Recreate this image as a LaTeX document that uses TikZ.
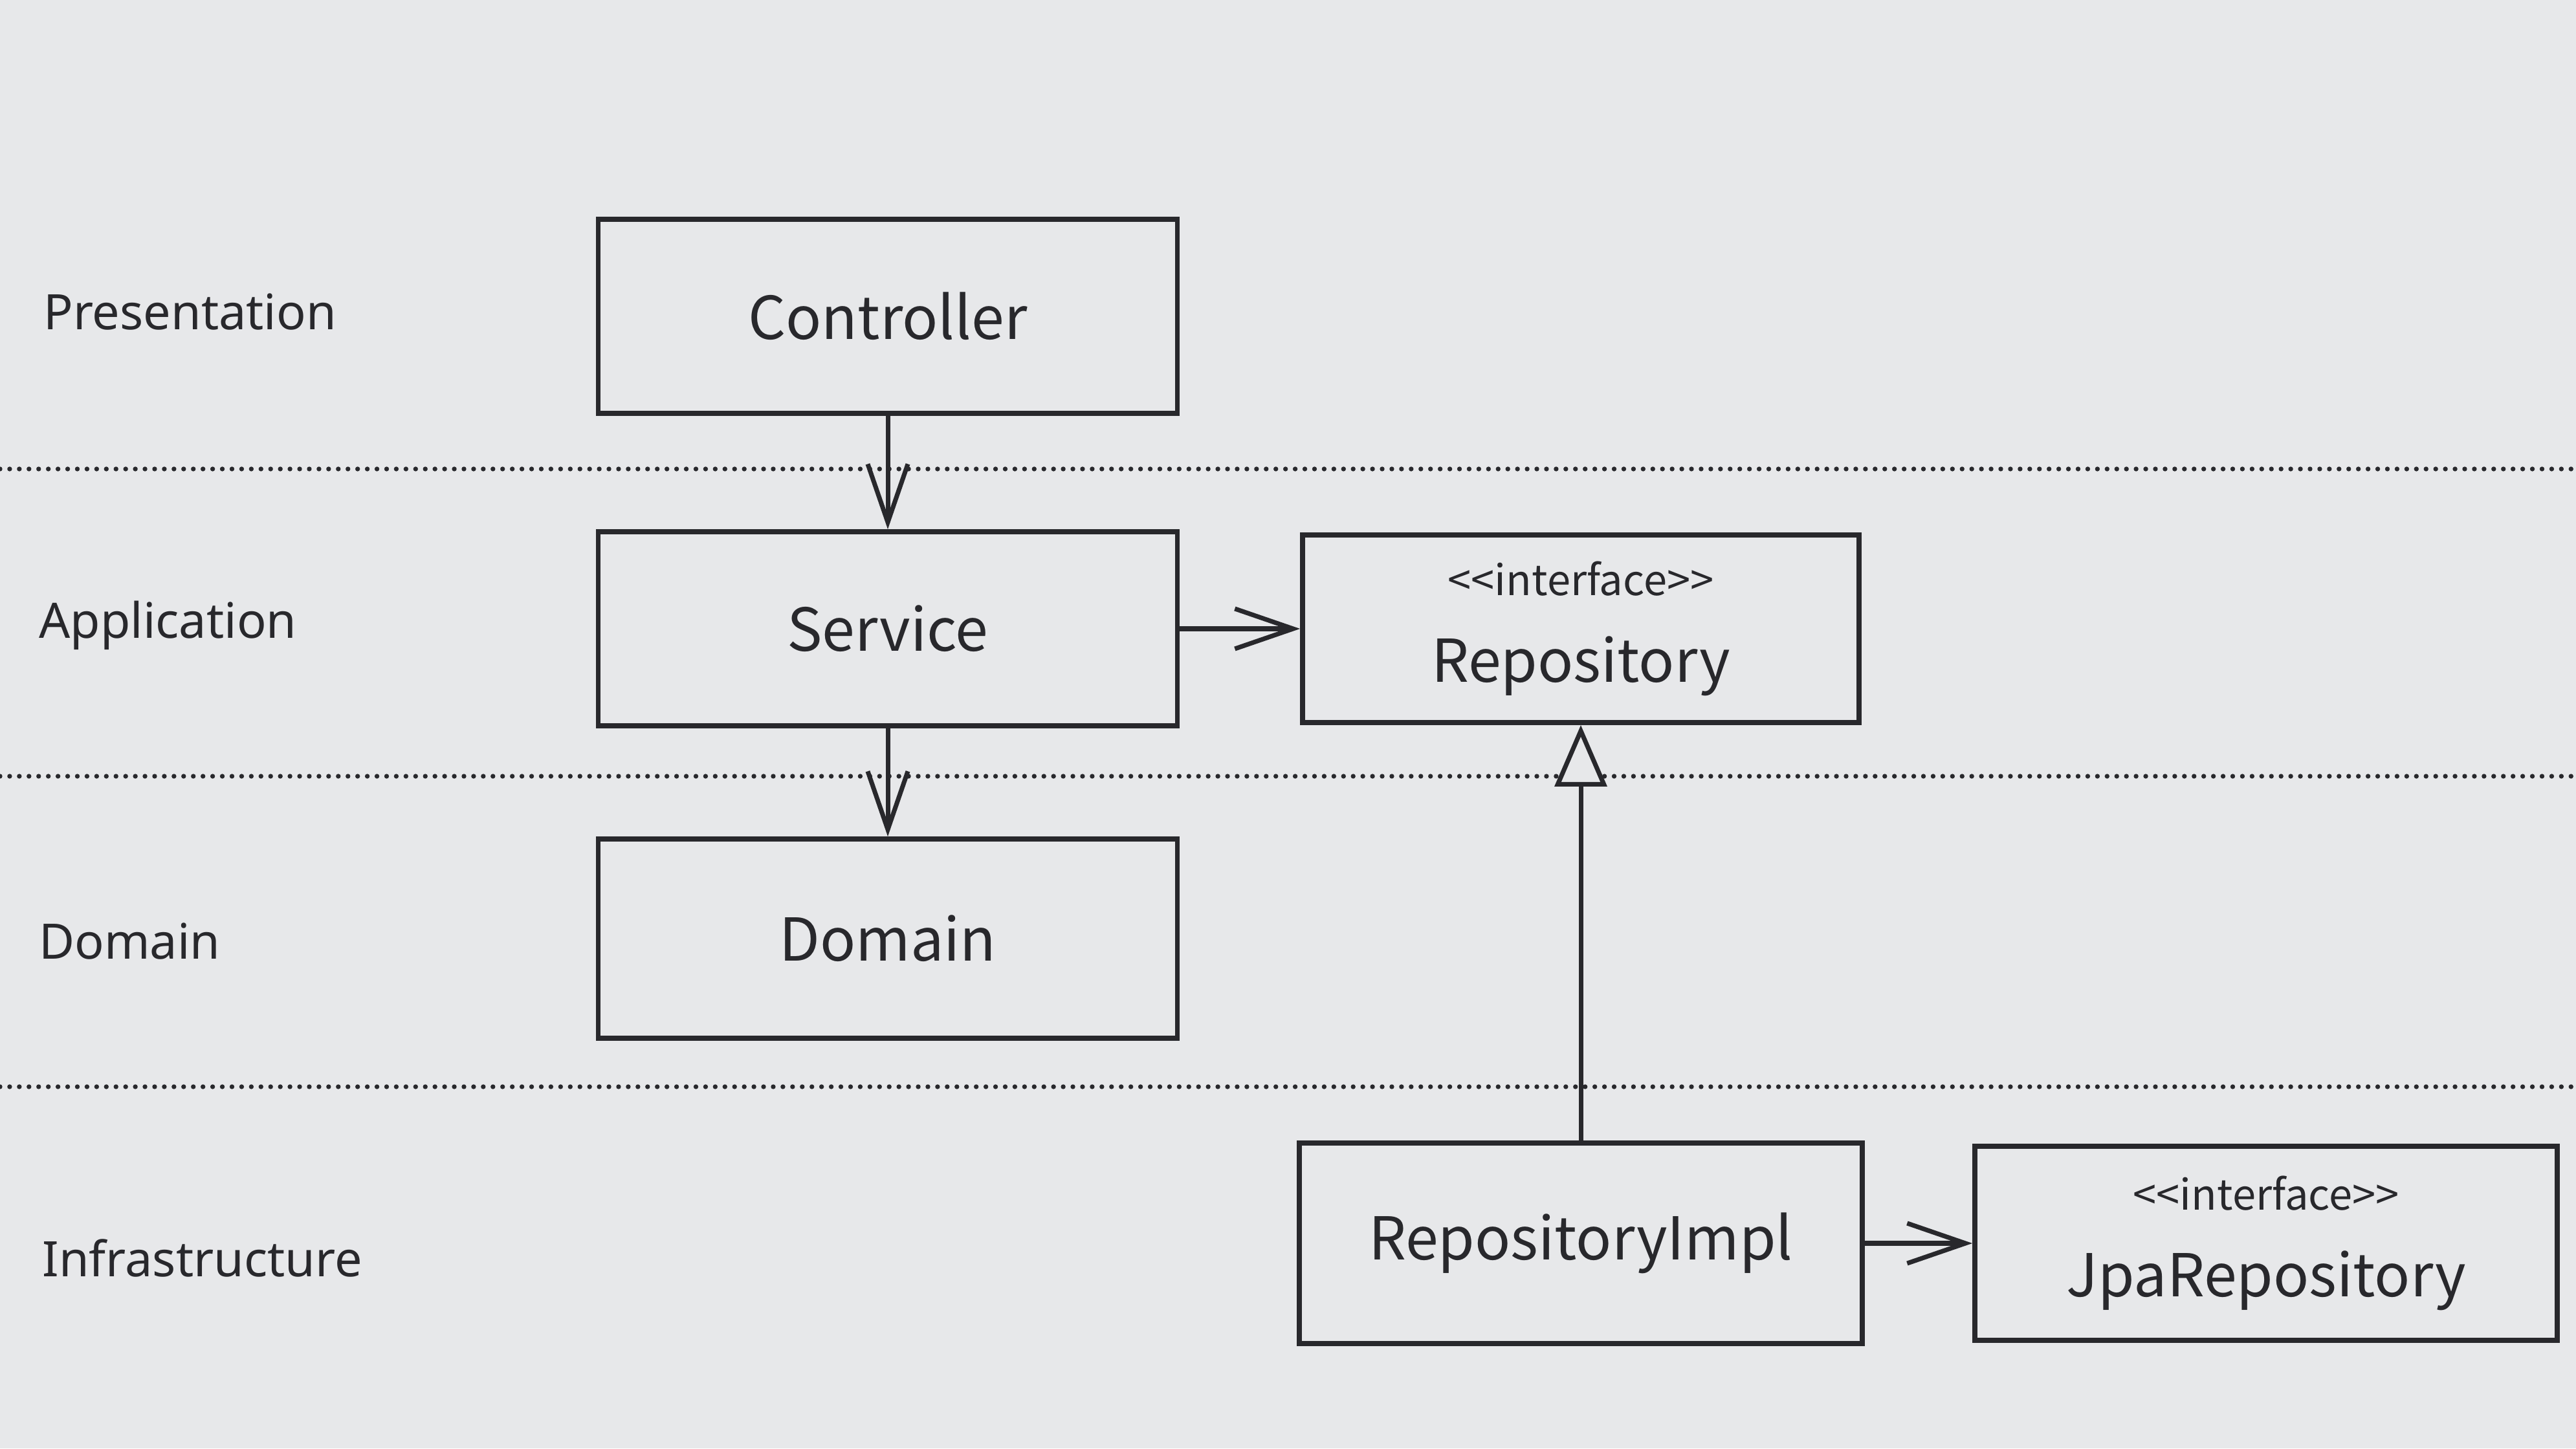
\documentclass[tikz,border=0pt]{standalone}
\usepackage{fontspec}
\setmainfont{Noto Sans}
\newfontfamily\boxfont{Noto Sans CJK KR}
\usetikzlibrary{arrows.meta}
\definecolor{paper}{RGB}{231,232,234}
\definecolor{ink}{RGB}{40,40,44}
\newcommand\stereofont{\fontsize{18.5}{22}\selectfont}

\begin{document}
\begin{tikzpicture}[every node/.style={text=ink},
                    box/.style={draw=ink, line width=2.2pt, fill=paper, minimum width=8.95cm, minimum height=3cm,
                                inner sep=0pt, align=center, font=\boxfont\fontsize{26}{34}\selectfont},
                    layer/.style={anchor=west, font=\fontsize{21.5}{26}\selectfont},
                    sep_style/.style={draw=ink, line width=2.1pt, dash pattern=on 0pt off 4.25pt, line cap=round},
                    uses/.style={draw=ink, line width=2pt, -{Straight Barb[length=0.9cm, width=0.62cm, line width=2pt]}},
                    realize/.style={draw=ink, line width=2pt, -{Triangle[length=0.95cm, width=0.8cm, fill=paper, line width=2pt]}}]
                    \useasboundingbox (0,0) rectangle (39.81,22.39);
                    \fill[paper] (0,0) rectangle (39.81,22.39);
                    % layer borders
                    \foreach \y in {15.14,10.39,5.59}
                        \draw[sep_style] (0,\y) -- (39.81,\y);
                    % layer names
                    \node[layer] (l1) at (0.55, 17.57) {Presentation};
                    \node[layer] (l2) at (0.48, 12.72) {Application};
                    \node[layer] (l3) at (0.48, 7.84) {Domain};
                    \node[layer] (l4) at (0.53, 2.94) {Infrastructure};
                    % classes
                    \node[box] (ctrl) at (13.72, 17.50) {Controller};
                    \node[box] (svc) at (13.72, 12.67) {Service};
                    \node[box, minimum height=3.08cm] (dom) at (13.72, 7.88) {Domain};
                    \node[box, minimum width=8.6cm, minimum height=2.9cm] (repo) at (24.43, 12.67) {{\stereofont <<interface>>}\\[4pt]Repository};
                    \node[box, minimum width=8.7cm, minimum height=3.1cm] (impl) at (24.43, 3.17) {RepositoryImpl};
                    \node[box, minimum width=9.0cm] (jpa) at (35.02, 3.17) {{\stereofont <<interface>>}\\[4pt]JpaRepository};
                    % relations
                    \draw (ctrl) edge[uses] (svc);
                    \draw (svc) edge[uses] (dom);
                    \draw (svc) edge[uses] (repo);
                    \draw (impl) edge[realize] (repo);
                    \draw (impl) edge[uses] (jpa);
                \end{tikzpicture}
\end{document}
